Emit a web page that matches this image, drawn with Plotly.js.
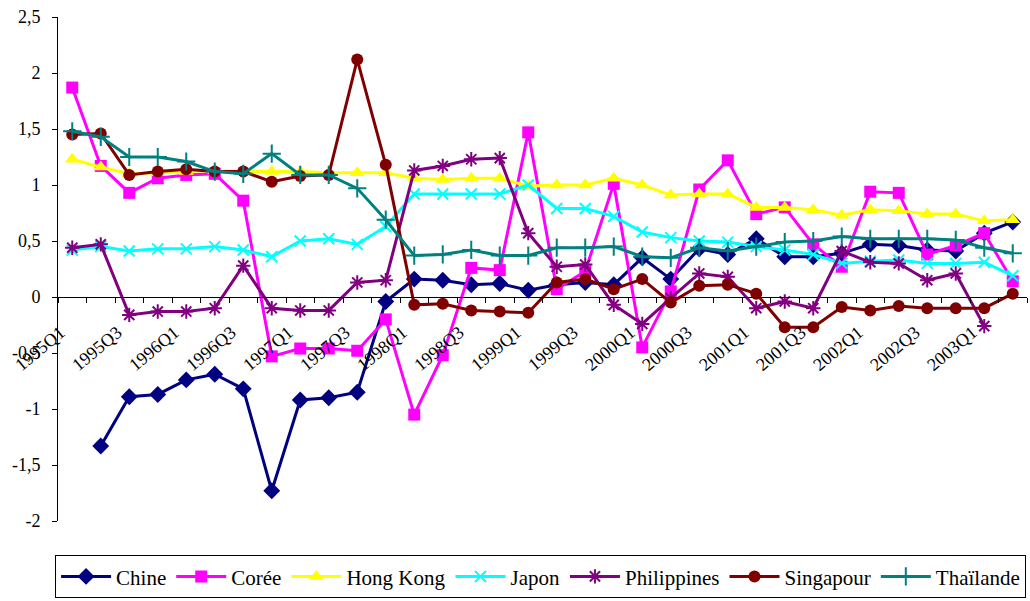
<!DOCTYPE html>
<html>
<head>
<meta charset="utf-8">
<script src="https://cdn.plot.ly/plotly-3.0.1.min.js"></script>
<style>
  html, body { margin: 0; padding: 0; background: #fff; }
  #chart { width: 1030px; height: 601px; }
</style>
</head>
<body>
<div id="chart"></div>
<script>
const quarters = ["1995Q1","1995Q2","1995Q3","1995Q4","1996Q1","1996Q2","1996Q3","1996Q4",
  "1997Q1","1997Q2","1997Q3","1997Q4","1998Q1","1998Q2","1998Q3","1998Q4",
  "1999Q1","1999Q2","1999Q3","1999Q4","2000Q1","2000Q2","2000Q3","2000Q4",
  "2001Q1","2001Q2","2001Q3","2001Q4","2002Q1","2002Q2","2002Q3","2002Q4",
  "2003Q1","2003Q2"];

const chine = [null, -1.33, -0.89, -0.87, -0.74, -0.69, -0.82, -1.73, -0.92, -0.90, -0.85, -0.04,
  0.16, 0.15, 0.11, 0.12, 0.06, 0.11, 0.13, 0.11, 0.35, 0.16, 0.43, 0.38,
  0.52, 0.36, 0.36, 0.39, 0.47, 0.46, 0.42, 0.41, 0.57, 0.67];
const coree = [1.87, 1.17, 0.93, 1.06, 1.09, 1.10, 0.86, -0.53, -0.46, -0.46, -0.48, -0.20,
  -1.05, -0.52, 0.26, 0.24, 1.47, 0.07, 0.23, 1.01, -0.45, 0.05, 0.96, 1.22,
  0.74, 0.80, 0.47, 0.27, 0.94, 0.93, 0.38, 0.46, 0.57, 0.14];
const hongKong = [1.23, 1.16, 1.10, 1.11, 1.12, 1.13, 1.12, 1.12, 1.12, 1.11, 1.11, 1.11,
  1.06, 1.05, 1.06, 1.06, 0.99, 1.00, 1.00, 1.06, 1.00, 0.91, 0.92, 0.92,
  0.80, 0.80, 0.78, 0.73, 0.78, 0.77, 0.74, 0.74, 0.68, 0.69];
const japon = [0.42, 0.45, 0.41, 0.43, 0.43, 0.45, 0.42, 0.36, 0.50, 0.52, 0.47, 0.63,
  0.92, 0.92, 0.92, 0.92, 1.00, 0.79, 0.79, 0.72, 0.58, 0.53, 0.50, 0.49,
  0.45, 0.42, 0.38, 0.30, 0.32, 0.33, 0.30, 0.30, 0.31, 0.19];
const philippines = [0.44, 0.47, -0.16, -0.13, -0.13, -0.10, 0.28, -0.10, -0.12, -0.12, 0.13, 0.15,
  1.13, 1.17, 1.23, 1.24, 0.57, 0.27, 0.29, -0.07, -0.24, -0.01, 0.21, 0.18,
  -0.10, -0.04, -0.10, 0.41, 0.31, 0.30, 0.15, 0.21, -0.26, null];
const singapour = [1.45, 1.46, 1.09, 1.12, 1.14, 1.12, 1.12, 1.03, 1.08, 1.09, 2.12, 1.18,
  -0.07, -0.06, -0.12, -0.13, -0.14, 0.13, 0.16, 0.07, 0.16, -0.05, 0.10, 0.11,
  0.03, -0.27, -0.27, -0.09, -0.12, -0.08, -0.10, -0.10, -0.10, 0.03];
const thailande = [1.48, 1.43, 1.25, 1.25, 1.21, 1.12, 1.10, 1.28, 1.09, 1.09, 0.97, 0.69,
  0.37, 0.38, 0.42, 0.37, 0.37, 0.44, 0.44, 0.45, 0.36, 0.35, 0.44, 0.41,
  0.45, 0.49, 0.50, 0.54, 0.52, 0.52, 0.52, 0.51, 0.44, 0.39];

const yTickVals = [-2, -1.5, -1, -0.5, 0, 0.5, 1, 1.5, 2, 2.5];
const yTickText = ["-2", "-1,5", "-1", "-0,5", "0", "0,5", "1", "1,5", "2", "2,5"];
const xTickText = quarters.map((q, i) => (i % 2 === 0 ? q : ""));

const FONT = '"Liberation Serif", "Times New Roman", serif';

function series(name, y, color, symbol, size, open) {
  const m = { symbol: symbol, size: size, color: color };
  if (open) {
    m.line = { color: color, width: 2 };
  } else {
    m.line = { width: 0 };
  }
  return {
    type: "scatter", mode: "lines+markers", name: name,
    x: quarters, y: y,
    line: { color: color, width: 3 },
    marker: m,
    connectgaps: false
  };
}

const data = [
  series("Chine", chine, "#000080", "diamond", 13, false),
  series("Corée", coree, "#FF00FF", "square", 12, false),
  series("Hong Kong", hongKong, "#FFFF00", "triangle-up", 13, false),
  series("Japon", japon, "#00FFFF", "x-thin-open", 11, true),
  series("Philippines", philippines, "#800080", "asterisk-open", 12, true),
  series("Singapour", singapour, "#800000", "circle", 12, false),
  series("Thaïlande", thailande, "#008080", "cross-thin-open", 13, true)
];

const yMin = -2, yMax = 2.5;

const layout = {
  width: 1030, height: 601,
  margin: { l: 58, r: 3, t: 17, b: 74, pad: 0 },
  paper_bgcolor: "#ffffff",
  plot_bgcolor: "#ffffff",
  font: { family: FONT, size: 18, color: "#000" },
  showlegend: true,
  xaxis: {
    type: "category",
    categoryorder: "array",
    categoryarray: quarters,
    range: [-0.5, quarters.length - 0.5],
    anchor: "free",
    position: (0 - yMin) / (yMax - yMin),
    showline: true, linecolor: "#000", linewidth: 1,
    showgrid: false, zeroline: false,
    ticks: "outside", ticklen: 5, tickcolor: "#000", tickwidth: 1,
    tickson: "boundaries",
    tickmode: "array", tickvals: quarters, ticktext: xTickText,
    tickangle: -40,
    ticklabelstandoff: 17,
    ticklabelshift: -12,
    tickfont: { family: FONT, size: 18, color: "#000" },
    automargin: false
  },
  yaxis: {
    range: [yMin, yMax],
    showline: true, linecolor: "#000", linewidth: 1,
    showgrid: false, zeroline: false,
    ticks: "outside", ticklen: 5, tickcolor: "#000", tickwidth: 1,
    tickmode: "array", tickvals: yTickVals, ticktext: yTickText,
    ticklabelstandoff: 8,
    tickfont: { family: FONT, size: 18, color: "#000" },
    automargin: false
  },
  legend: {
    orientation: "h",
    x: 0.498, xanchor: "center",
    y: -0.068, yanchor: "top",
    bordercolor: "#000", borderwidth: 1,
    bgcolor: "#fff",
    font: { family: FONT, size: 21, color: "#000" },
    itemwidth: 50,
    tracegroupgap: 0
  }
};

Plotly.newPlot("chart", data, layout, { displayModeBar: false, staticPlot: true });
</script>
</body>
</html>
